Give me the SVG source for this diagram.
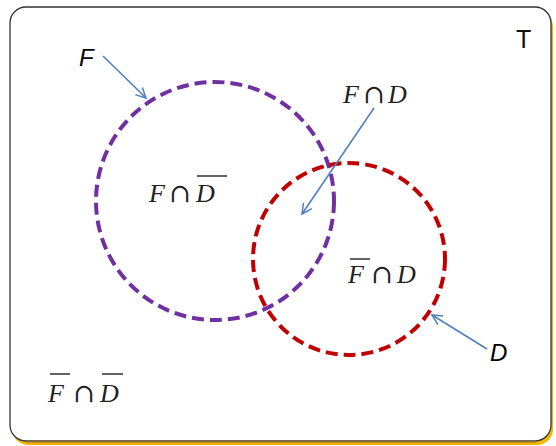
<svg xmlns="http://www.w3.org/2000/svg" width="556" height="446" viewBox="0 0 556 446">
<defs>
<marker id="ah" viewBox="0 0 12 12" refX="11" refY="6" markerWidth="12" markerHeight="12" markerUnits="userSpaceOnUse" orient="auto">
<path d="M1,1 L11,6 L1,11" fill="none" stroke="#4f81bd" stroke-width="1.5"/>
</marker>
<style>
.set{fill:none;stroke-width:4;stroke-dasharray:12 6}
.conn{stroke:#4f81bd;stroke-width:1.6;fill:none;marker-end:url(#ah)}
.m{font-family:"Liberation Serif","DejaVu Serif",serif;font-size:26px;fill:#222}
.i{font-style:italic}
.cap{font-family:"DejaVu Serif",serif;font-size:26px;font-style:normal}
.lab{font-family:"Liberation Sans",Arial,sans-serif;font-size:24px;font-style:italic;fill:#000}
.bar{stroke:#222;stroke-width:1.4}
</style>
</defs>
<g id="frame">
<rect x="12" y="11" width="541" height="434" rx="16" fill="#f2b705"/>
<rect x="10" y="7" width="541" height="434" rx="16" fill="#fff" stroke="#333" stroke-width="1.3"/>
<line x1="26" y1="441.5" x2="536" y2="441.5" stroke="#8a6d3b" stroke-width="2"/>
<text x="516" y="48" font-family="Liberation Sans,Arial,sans-serif" font-size="25" fill="#111">T</text>
</g>
<g id="setF">
<circle class="set" cx="215" cy="201" r="119" stroke="#7030a0"/>
</g>
<g id="setD">
<circle class="set" cx="349" cy="259" r="96" stroke="#c00000"/>
</g>
<g id="labelF"><text class="lab" x="79" y="66">F</text></g>
<g id="labelD"><text class="lab" x="490" y="361">D</text></g>
<g id="FandD"><text class="m" y="103"><tspan class="i" x="343">F</tspan><tspan class="cap" x="363">∩</tspan><tspan class="i" x="388">D</tspan></text></g>
<g id="FandNotD"><text class="m" y="202"><tspan class="i" x="149">F</tspan><tspan class="cap" x="169">∩</tspan><tspan class="i" x="196">D</tspan></text>
<line class="bar" x1="197" y1="176" x2="227" y2="176"/></g>
<g id="NotFandD"><text class="m" y="283"><tspan class="i" x="348">F</tspan><tspan class="cap" x="371">∩</tspan><tspan class="i" x="397">D</tspan></text>
<line class="bar" x1="350" y1="259" x2="370" y2="259"/></g>
<g id="NotFandNotD"><text class="m" y="402"><tspan class="i" x="48">F</tspan><tspan class="cap" x="73">∩</tspan><tspan class="i" x="100">D</tspan></text>
<line class="bar" x1="50" y1="374" x2="70" y2="374"/>
<line class="bar" x1="102" y1="374" x2="123" y2="374"/></g>
<g id="connectors">
<line class="conn" x1="103" y1="56" x2="146" y2="98"/>
<line class="conn" x1="374" y1="108" x2="302" y2="214"/>
<line class="conn" x1="487" y1="349" x2="432" y2="315"/>
</g>
</svg>
